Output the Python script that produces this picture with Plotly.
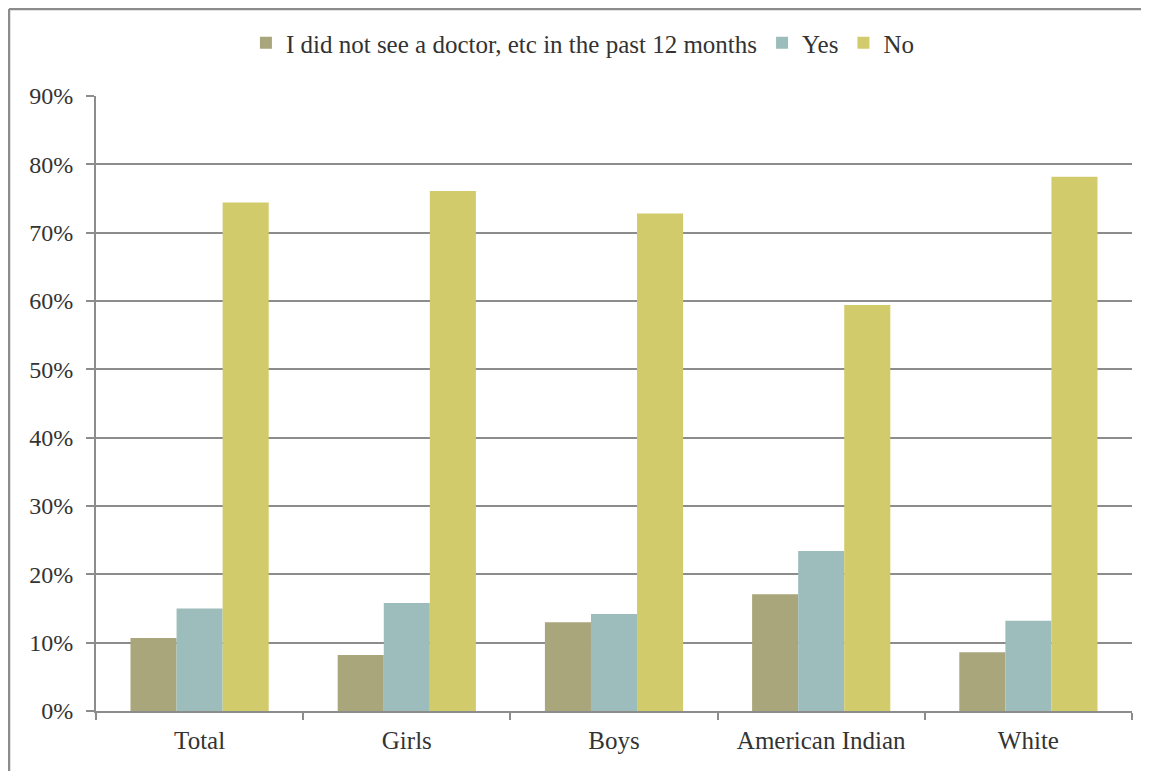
import plotly.graph_objects as go

# 資料
categories = ["Total", "Girls", "Boys", "American Indian", "White"]
series_names = ["I did not see a doctor, etc in the past 12 months", "Yes", "No"]
no_visit = [10.7, 8.2, 13.0, 17.1, 8.6]
yes_vals = [15.0, 15.8, 14.2, 23.4, 13.2]
no_vals = [74.4, 76.1, 72.8, 59.4, 78.2]
y_ticks = [0, 10, 20, 30, 40, 50, 60, 70, 80, 90]

colors = ["#A9A67C", "#9DBDBC", "#D2CB6C"]
font_family = "Liberation Serif"
grey = "#8C8C8C"

fig = go.Figure()
for name, vals, c in zip(series_names, [no_visit, yes_vals, no_vals], colors):
    fig.add_trace(go.Bar(x=categories, y=vals, name=name,
                         marker=dict(color=c, line_width=0)))

# 頁面 body 有 8px 邊距，所以圖表本身縮小 8px
W, H = 1141, 763
ml, mr, mt, mb = 88, 17, 88, 60
pw, ph = W - ml - mr, H - mt - mb

fig.update_layout(
    width=W, height=H,
    margin=dict(l=ml, r=mr, t=mt, b=mb),
    barmode="group", bargap=0.333, bargroupgap=0,
    plot_bgcolor="white", paper_bgcolor="white",
    font=dict(family=font_family, size=25, color="#333333"),
    legend=dict(orientation="h", x=0.47, xanchor="center",
                y=1 + (mt - 35) / ph, yanchor="middle",
                font=dict(size=25), itemwidth=30, traceorder="normal"),
    xaxis=dict(showline=True, linecolor=grey, linewidth=2,
               ticks="outside", tickson="boundaries", ticklen=7,
               tickcolor=grey, tickwidth=2, showgrid=False,
               tickfont=dict(size=25), ticklabelstandoff=6),
    yaxis=dict(range=[0, 90], tickvals=y_ticks,
               ticktext=[f"{v}%" for v in y_ticks],
               showline=True, linecolor=grey, linewidth=2,
               ticks="outside", ticklen=8, tickcolor=grey, tickwidth=2,
               showgrid=True, gridcolor=grey, gridwidth=2, zeroline=False,
               tickfont=dict(size=24), ticklabelstandoff=8),
)

# 外框 (左與上)
bx = (1 - ml) / pw
by = 1 + (mt - 1) / ph
fig.add_shape(type="line", xref="paper", yref="paper", x0=bx, x1=bx, y0=by, y1=-1,
              line=dict(color=grey, width=2.5))
fig.add_shape(type="line", xref="paper", yref="paper", x0=bx, x1=2, y0=by, y1=by,
              line=dict(color=grey, width=2.5))

fig.write_html("out.html")
